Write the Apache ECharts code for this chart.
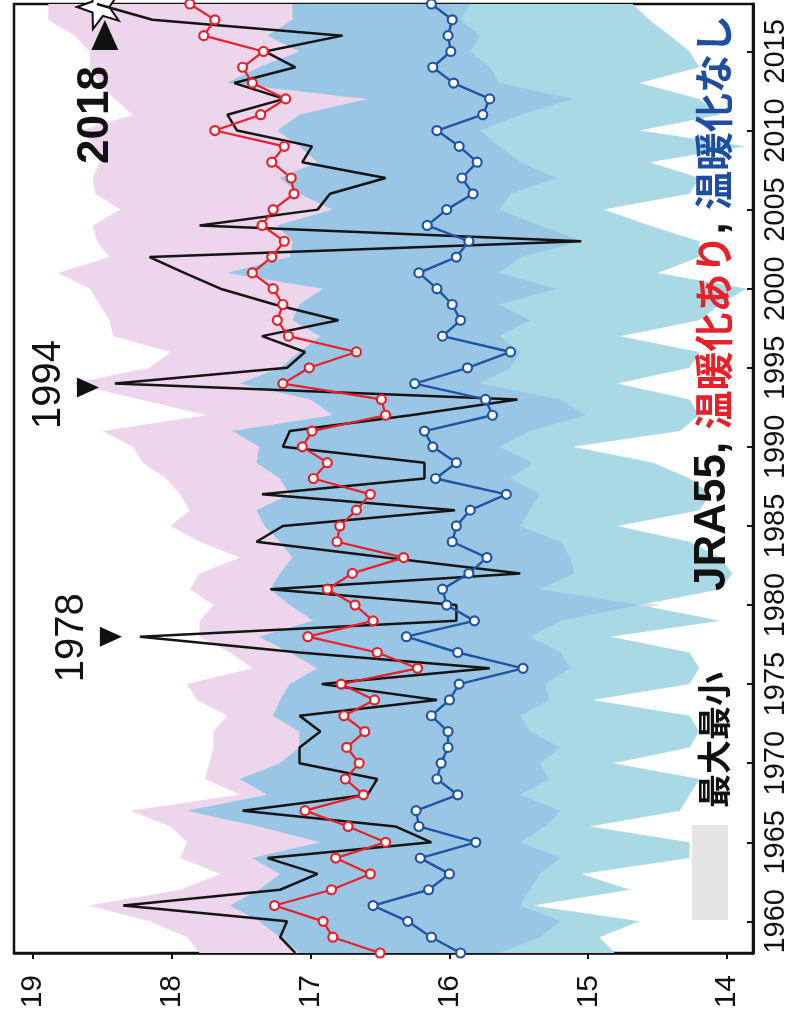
<!DOCTYPE html>
<html><head><meta charset="utf-8">
<script src="https://cdn.jsdelivr.net/npm/echarts@6/dist/echarts.min.js"></script>
<style>html,body{margin:0;padding:0;background:#fff}#c{width:790px;height:1023px}</style>
</head><body><div id="c"></div>
<script>
const years = ['1958','1959','1960','1961','1962','1963','1964','1965','1966','1967',
  '1968','1969','1970','1971','1972','1973','1974','1975','1976','1977',
  '1978','1979','1980','1981','1982','1983','1984','1985','1986','1987',
  '1988','1989','1990','1991','1992','1993','1994','1995','1996','1997',
  '1998','1999','2000','2001','2002','2003','2004','2005','2006','2007',
  '2008','2009','2010','2011','2012','2013','2014','2015','2016','2017','2018'];
const valueTicks = [14, 15, 16, 17, 18, 19];

const jra55 = [17.11,17.22,17.17,18.35,17.22,16.95,17.31,16.13,16.39,17.49,
  16.59,16.52,17.08,17.08,16.93,17.08,16.09,16.92,15.71,17.08,
  18.23,15.95,15.95,17.29,15.49,16.46,17.39,17.20,15.96,17.35,
  16.18,16.18,17.20,17.15,16.28,15.51,18.41,17.17,17.04,17.35,
  16.80,17.26,17.65,17.91,18.16,15.05,17.80,16.95,16.86,16.46,
  17.06,16.99,17.53,17.60,17.19,17.55,17.11,17.33,16.77,18.14,18.54];
const warmMean = [16.50,16.84,16.91,17.26,16.85,16.57,16.82,16.46,16.73,17.04,
  16.62,16.75,16.65,16.74,16.61,16.76,16.54,16.78,16.23,16.52,
  17.02,16.55,16.68,16.88,16.70,16.33,16.81,16.79,16.67,16.57,
  16.98,16.88,17.06,16.99,16.46,16.49,17.20,17.01,16.67,17.16,
  17.24,17.20,17.27,17.42,17.28,17.19,17.35,17.27,17.12,17.14,
  17.28,17.19,17.69,17.36,17.18,17.42,17.49,17.34,17.77,17.69,17.87];
const noWarmMean = [15.92,16.13,16.30,16.55,16.15,16.00,16.21,15.81,16.22,16.24,
  15.94,16.09,16.06,16.01,16.01,16.13,16.00,15.93,15.47,15.94,
  16.31,15.82,16.02,16.05,15.86,15.73,15.98,15.95,15.85,15.59,
  16.10,15.95,16.12,16.18,15.69,15.74,16.25,15.87,15.56,16.05,
  15.92,15.98,16.09,16.22,15.95,15.86,16.16,16.02,15.83,15.91,
  15.80,15.93,16.09,15.76,15.71,15.97,16.12,15.99,16.01,15.98,16.13];
const warmMax = [17.80,17.89,18.16,18.60,17.94,17.65,17.94,17.89,18.01,18.30,
  17.51,17.76,17.73,17.70,17.70,17.60,17.82,17.89,17.42,17.58,
  17.80,17.80,17.70,17.87,17.80,17.51,17.80,18.01,17.87,17.94,
  18.04,18.21,18.28,18.50,17.75,18.23,18.72,18.16,18.01,18.42,
  18.45,18.52,18.59,18.82,18.45,18.54,18.57,18.37,18.55,18.57,
  18.52,18.55,18.66,18.28,18.41,18.52,18.59,18.59,18.70,18.89,18.89];
const warmMin = [15.64,15.35,15.20,15.49,15.42,15.35,15.20,15.49,15.31,15.20,
  15.49,15.28,15.35,15.20,15.42,15.49,15.28,15.31,15.13,15.20,
  15.42,15.20,14.48,15.35,15.10,15.13,15.20,15.49,15.42,15.35,
  15.56,15.40,15.64,15.42,15.02,15.20,15.78,15.56,15.49,15.64,
  15.42,15.64,15.23,15.64,15.49,15.04,15.35,15.64,15.56,15.23,
  15.49,15.64,15.78,15.49,15.11,15.64,15.71,15.85,15.78,15.92,15.85];
const noWarmMax = [17.08,17.22,17.37,17.58,17.37,17.22,17.42,16.93,17.37,17.89,
  17.31,17.51,17.22,17.08,17.08,17.27,17.22,17.15,16.95,17.15,
  17.37,16.98,17.15,17.29,17.22,17.13,17.22,17.33,17.39,17.15,
  17.22,17.39,17.37,17.56,16.84,17.00,17.51,17.22,17.08,16.93,
  17.13,17.08,16.91,17.60,17.15,17.13,17.24,16.84,17.08,17.22,
  16.95,17.08,17.24,17.08,16.59,17.60,17.37,17.08,17.31,17.13,17.13];
const noWarmMin = [14.81,14.92,14.63,15.40,14.70,15.05,14.27,14.27,14.99,14.34,
  14.27,14.20,14.82,14.27,14.20,14.27,14.97,14.27,14.20,14.27,
  14.84,14.05,14.63,14.05,13.96,14.05,14.27,14.79,14.20,14.12,
  14.27,14.53,15.11,14.34,14.20,14.27,14.79,14.27,14.20,14.77,
  14.20,14.05,13.86,14.50,14.20,14.20,14.56,14.89,14.27,14.20,
  14.56,13.87,14.63,14.05,14.20,14.63,14.20,14.27,14.41,14.56,14.68];

const PINK = '#EDD5EB', CYAN = '#A8D9E5', OVER = '#9AC6E6';
const RED = '#E8202A', BLUE = '#2155A4', BLACK = '#151515';
const NUM_FONT = '"Liberation Sans Narrow","Liberation Sans",Arial,sans-serif';
const CJK = '"Noto Sans CJK JP","Noto Sans CJK SC",sans-serif';

const overLo = warmMin.map((v, i) => Math.max(v, noWarmMin[i]));
const overHi = warmMax.map((v, i) => Math.min(v, noWarmMax[i]));

function band(name, lo, hi, color, z) {
  return [
    {name: name + '_lo', type: 'line', stack: name, data: lo, symbol: 'none', silent: true,
     lineStyle: {width: 0, opacity: 0}, z: z},
    {name: name, type: 'line', stack: name, symbol: 'none', silent: true, z: z,
     data: hi.map((h, i) => +Math.max(0, h - lo[i]).toFixed(3)),
     lineStyle: {width: 0, opacity: 0}, areaStyle: {color: color, opacity: 1}}
  ];
}

const starPath = 'path://M0,-10L2.35,-3.24L9.51,-3.09L3.8,1.24L5.88,8.09L0,4L-5.88,8.09L-3.8,1.24L-9.51,-3.09L-2.35,-3.24Z';
const yrFilter = (i, v) => (+v) % 5 === 0;

function textMark(idx, text, offset, size, weight) {
  return {coord: [jra55[idx], years[idx]], symbol: 'rect', symbolSize: 1, symbolOffset: offset,
    itemStyle: {color: 'rgba(0,0,0,0)'},
    label: {show: true, position: 'inside', formatter: text, rotate: 90, fontSize: size,
      fontWeight: weight, color: '#111', fontFamily: '"Liberation Sans",Arial,sans-serif'}};
}

const option = {
  animation: false,
  backgroundColor: '#fff',
  grid: {left: 14, right: 37, top: 4, bottom: 70, show: true, borderColor: '#111', borderWidth: 2.5,
    backgroundColor: 'rgba(0,0,0,0)', containLabel: false, outerBoundsMode: 'none'},
  xAxis: {
    type: 'value', inverse: true, min: 13.813, max: 19.137, position: 'bottom',
    axisLine: {show: true, onZero: false, lineStyle: {color: '#111', width: 2.5}},
    axisTick: {show: true, customValues: valueTicks, length: 6, lineStyle: {color: '#111', width: 2}},
    axisLabel: {customValues: valueTicks, rotate: 90, margin: 22, fontSize: 30, color: '#111', fontFamily: NUM_FONT},
    splitLine: {show: false}
  },
  yAxis: {
    type: 'category', data: years, boundaryGap: false, position: 'right',
    axisLine: {show: true, onZero: false, lineStyle: {color: '#111', width: 3}},
    axisTick: {show: true, inside: true, length: 6, interval: yrFilter, lineStyle: {color: '#111', width: 2}},
    axisLabel: {interval: yrFilter, rotate: 90, margin: 8, fontSize: 29, color: '#111', fontFamily: NUM_FONT},
    splitLine: {show: false}
  },
  series: [
    ...band('pink', warmMin, warmMax, PINK, 1),
    ...band('cyan', noWarmMin, noWarmMax, CYAN, 2),
    ...band('over', overLo, overHi, OVER, 3),
    {name: 'JRA55', type: 'line', data: jra55, symbol: 'none', z: 5,
     lineStyle: {color: BLACK, width: 2.5},
     markPoint: {silent: true, data: [
       {coord: [jra55[20], years[20]], symbol: 'triangle', symbolSize: [20, 22], symbolRotate: -90,
        symbolOffset: [-29, 0], itemStyle: {color: '#111'}, label: {show: false}},
       textMark(20, '1978', [-68, 1], 40, 'normal'),
       {coord: [jra55[36], years[36]], symbol: 'triangle', symbolSize: [20, 22], symbolRotate: -90,
        symbolOffset: [-27, 4], itemStyle: {color: '#111'}, label: {show: false}},
       textMark(36, '1994', [-66, 1], 40, 'normal'),
       {coord: [jra55[60], years[60]], symbol: 'triangle', symbolSize: [27, 30],
        symbolOffset: [8, 31], itemStyle: {color: '#111'}, label: {show: false}},
       textMark(60, '2018', [-1, 111], 44, 'bold'),
       {coord: [jra55[60], years[60]], symbol: starPath, symbolSize: 44, symbolKeepAspect: true, symbolRotate: 90,
        symbolOffset: [1, 3], itemStyle: {color: '#fff', borderColor: '#111', borderWidth: 2}, label: {show: false}}
     ]}},
    {name: '温暖化あり', type: 'line', data: warmMean, symbol: 'circle', symbolSize: 9, showAllSymbol: true, z: 6,
     lineStyle: {color: RED, width: 2.2}, itemStyle: {color: '#fff', borderColor: RED, borderWidth: 2.2}},
    {name: '温暖化なし', type: 'line', data: noWarmMean, symbol: 'circle', symbolSize: 9, showAllSymbol: true, z: 7,
     lineStyle: {color: BLUE, width: 2.4}, itemStyle: {color: '#fff', borderColor: BLUE, borderWidth: 2.2}}
  ],
  graphic: [
    {type: 'rect', shape: {x: 692, y: 825, width: 36, height: 95}, style: {fill: '#E4E4E4'}, z: 10},
    {type: 'text', x: 714, y: 740, rotation: Math.PI / 2, z: 10,
     style: {text: '最大最小', fontSize: 34, fontWeight: 'bold', fontFamily: CJK, fill: '#111',
       align: 'center', verticalAlign: 'middle'}},
    {type: 'text', x: 713, y: 303, rotation: Math.PI / 2, z: 10,
     style: {text: '{k|JRA55, }{r|温暖化あり}{k|, }{b|温暖化なし}', align: 'center', verticalAlign: 'middle',
       rich: {
         k: {fontSize: 44, fontWeight: 'bold', fontFamily: '"Liberation Sans",' + CJK, fill: '#111'},
         r: {fontSize: 39, fontWeight: 'bold', fontFamily: CJK, fill: RED},
         b: {fontSize: 39, fontWeight: 'bold', fontFamily: CJK, fill: '#1F4E9E'}
       }}}
  ]
};

const chart = echarts.init(document.getElementById('c'), null, {renderer: 'canvas'});
chart.setOption(option);
</script>
</body></html>
